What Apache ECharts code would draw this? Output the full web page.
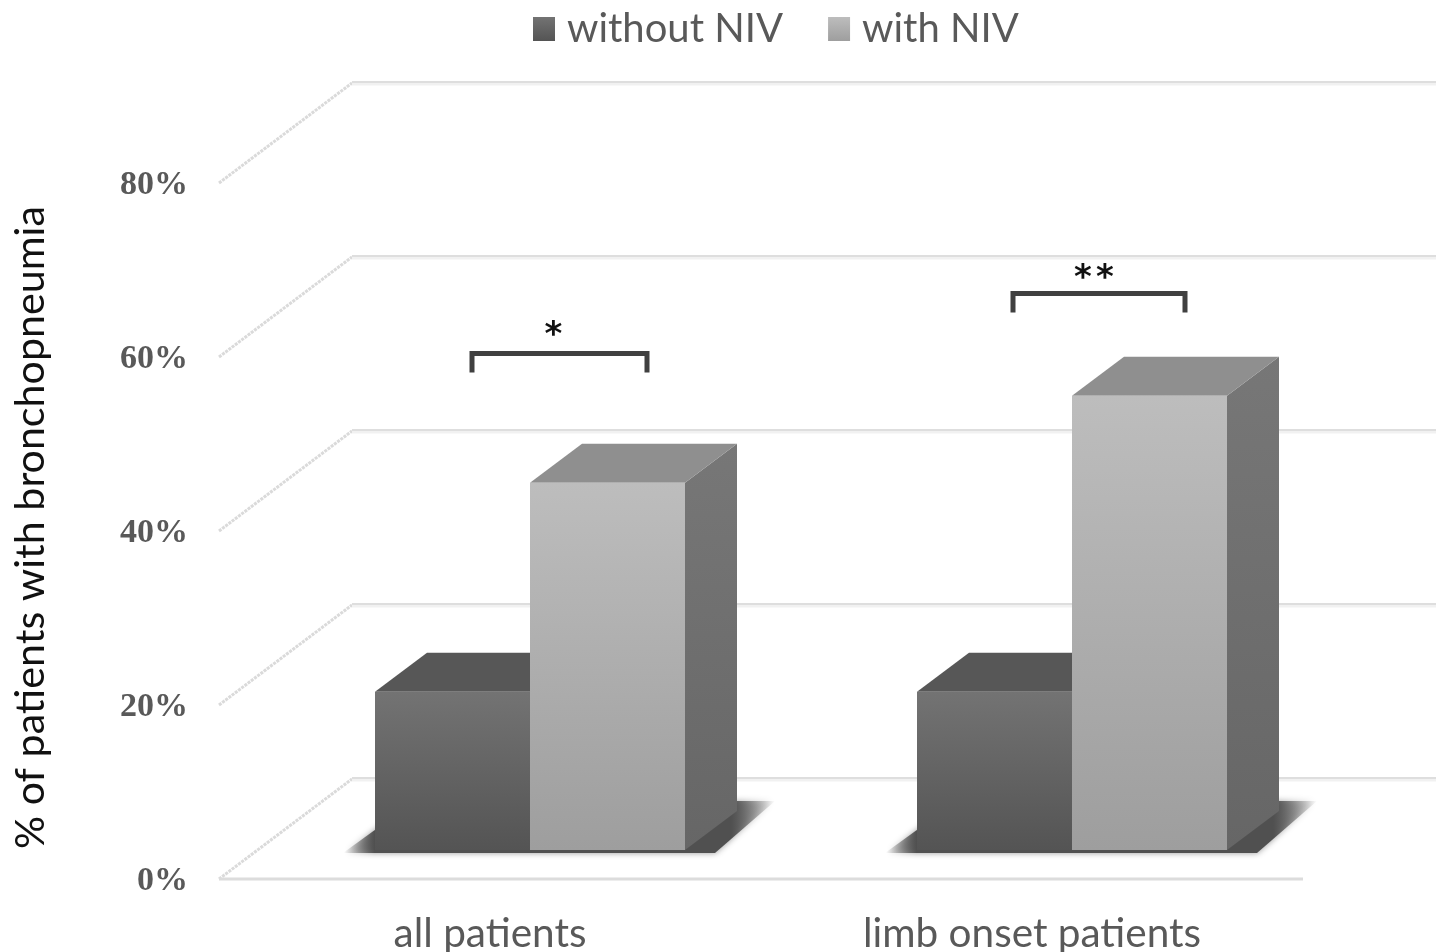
<!DOCTYPE html>
<html>
<head>
<meta charset="utf-8">
<style>html,body{margin:0;padding:0;background:#fff}#c{width:1442px;height:952px}</style>
<script src="https://cdn.jsdelivr.net/npm/echarts@6/dist/echarts.min.js"></script>
</head>
<body>
<div id="c"></div>
<script>
const categories = ['all patients', 'limb onset patients'];
const withoutNIV = [18.2, 18.2];
const withNIV = [42.2, 52.2];
const ticks = [0, 20, 40, 60, 80];
const brackets = [[0, 60.4], [1, 67.3]];
const bracketMarks = ['*', '**'];

const DEPTH_X = 133, DEPTH_Y = 100;       // full floor depth on screen
const BAR_OFF_X = 40, BAR_OFF_Y = 29;     // bar front plane within the floor
const BAR_DX = 52, BAR_DY = 39;           // bar depth
const BAR_W = 155;

function grad(a, b) {
  return new echarts.graphic.LinearGradient(0, 0, 0, 1, [{offset: 0, color: a}, {offset: 1, color: b}]);
}
function poly(points, style) {
  return {type: 'polygon', shape: {points}, style, silent: true};
}
function wallRender(params, api) {
  const v = api.value(0);
  const p = api.coord([0, v]);
  const cs = params.coordSys;
  const x0 = cs.x, y = p[1], x1 = cs.x + cs.width;
  const kids = [
    {type: 'line', shape: {x1: x0, y1: y, x2: x0 + DEPTH_X, y2: y - DEPTH_Y},
      style: {stroke: '#dadada', lineWidth: 3, lineDash: [3, 1]}},
    {type: 'line', shape: {x1: x0 + DEPTH_X, y1: y - DEPTH_Y + 1, x2: x1 + DEPTH_X, y2: y - DEPTH_Y + 1},
      style: {stroke: '#f1f1f1', lineWidth: 3}},
    {type: 'line', shape: {x1: x0 + DEPTH_X, y1: y - DEPTH_Y - 1, x2: x1 + DEPTH_X, y2: y - DEPTH_Y - 1},
      style: {stroke: '#dedede', lineWidth: 2}}
  ];
  if (v === 0) {
    kids.push({type: 'line', shape: {x1: x0, y1: y, x2: x1, y2: y}, style: {stroke: '#dcdcdc', lineWidth: 3}});
  }
  return {type: 'group', silent: true, children: kids};
}
function barRender(dir, c) {
  return function (params, api) {
    const cat = api.value(0), val = api.value(1);
    const top = api.coord([cat, val]), base = api.coord([cat, 0]);
    const cx = base[0] + BAR_OFF_X;
    const x0 = dir < 0 ? cx - BAR_W : cx, x1 = x0 + BAR_W;
    const yb = base[1] - BAR_OFF_Y, yt = top[1] - BAR_OFF_Y;
    const kids = [];
    if (dir < 0) {
      const r = cx + BAR_W + 90, l = x0 - 40;
      kids.push(poly([[l + 8, yb + 3], [l + 80, yb - BAR_DY - 10], [r, yb - BAR_DY - 10], [r - 60, yb + 3]], {
        fill: new echarts.graphic.LinearGradient(l, 0, r, 0, [
          {offset: 0.02, color: 'rgba(70,70,70,0)'},
          {offset: 0.09, color: '#505050'},
          {offset: 0.9, color: '#505050'},
          {offset: 1, color: 'rgba(70,70,70,0)'}
        ], true),
        shadowBlur: 6, shadowColor: 'rgba(80,80,80,0.6)'
      }));
    }
    kids.push(poly([[x1, yt], [x1 + BAR_DX, yt - BAR_DY], [x1 + BAR_DX, yb - BAR_DY], [x1, yb]], {fill: grad(c.side0, c.side1)}));
    kids.push(poly([[x0, yt], [x0 + BAR_DX, yt - BAR_DY], [x1 + BAR_DX, yt - BAR_DY], [x1, yt]], {fill: c.top}));
    kids.push({type: 'rect', shape: {x: x0, y: yt, width: BAR_W, height: yb - yt}, style: {fill: grad(c.front0, c.front1)}, silent: true});
    return {type: 'group', children: kids};
  };
}
function bracketRender(params, api) {
  const cat = api.value(0), val = api.value(1);
  const p = api.coord([cat, val]);
  const offs = [[-18, 157], [-19, 153]][cat];
  const xa = p[0] + offs[0], xb = p[0] + offs[1], y = p[1], leg = 19;
  const stars = bracketMarks[cat].split('');
  const mid = (xa + xb) / 2 - 6 + cat * 1;
  const kids = [{type: 'polyline', shape: {points: [[xa, y + leg], [xa, y], [xb, y], [xb, y + leg]]},
    style: {stroke: '#404040', lineWidth: 5, fill: null, lineJoin: 'miter'}}];
  stars.forEach((s, i) => {
    kids.push({type: 'text', style: {x: mid + (i - (stars.length - 1) / 2) * 22, y: y - 17 + cat * 3, text: s, fill: '#111',
      font: 'bold 34px "DejaVu Sans"', align: 'center', verticalAlign: 'middle'}});
  });
  return {type: 'group', silent: true, children: kids};
}

const darkStyle = {front0: '#737373', front1: '#545454', side0: '#555', side1: '#444', top: '#575757'};
const lightStyle = {front0: '#bdbdbd', front1: '#9e9e9e', side0: '#777777', side1: '#666666', top: '#8f8f8f'};

const chart = echarts.init(document.getElementById('c'), null, {renderer: 'canvas'});
chart.setOption({
  animation: false,
  backgroundColor: '#fff',
  legend: {
    left: 533, top: 9, padding: 0,
    itemWidth: 22, itemHeight: 24, itemGap: 45,
    icon: 'rect',
    data: ['without NIV', 'with NIV'],
    textStyle: {fontFamily: 'Lato', fontSize: 40, color: '#595959', padding: [0, 0, 0, 7]}
  },
  grid: {left: 219, right: 139, top: 183, bottom: 73, outerBoundsMode: 'none'},
  xAxis: {
    type: 'category',
    data: categories,
    axisLine: {show: false}, axisTick: {show: false}, splitLine: {show: false},
    axisLabel: {fontFamily: 'Lato', fontSize: 40.5, color: '#595959', margin: 34}
  },
  yAxis: {
    type: 'value', min: 0, max: 80, interval: 20,
    name: '% of patients with bronchopneumia',
    nameLocation: 'middle', nameRotate: 90, nameGap: 162,
    nameTextStyle: {fontFamily: 'Lato', fontSize: 41.2, color: '#111', padding: [0, 0, 6, 7]},
    axisLine: {show: false}, axisTick: {show: false}, splitLine: {show: false},
    axisLabel: {
      formatter: '{a|{value}%}', margin: 31,
      rich: {a: {fontFamily: 'Liberation Serif', fontWeight: 'bold', fontSize: 34, color: '#595959', padding: [4, 0, 0, 0]}}
    }
  },
  series: [
    {type: 'custom', name: 'walls', renderItem: wallRender, data: ticks.map(t => [t]), encode: {y: 0}, z: 1, silent: true},
    {type: 'custom', name: 'without NIV', renderItem: barRender(-1, darkStyle),
      data: withoutNIV.map((v, i) => [i, v]), encode: {x: 0, y: 1}, z: 2,
      itemStyle: {color: grad('#737373', '#545454')}},
    {type: 'custom', name: 'with NIV', renderItem: barRender(1, lightStyle),
      data: withNIV.map((v, i) => [i, v]), encode: {x: 0, y: 1}, z: 3,
      itemStyle: {color: grad('#bdbdbd', '#9e9e9e')}},
    {type: 'custom', name: 'significance', renderItem: bracketRender, data: brackets, encode: {x: 0, y: 1}, z: 4, silent: true}
  ]
});
</script>
</body>
</html>
